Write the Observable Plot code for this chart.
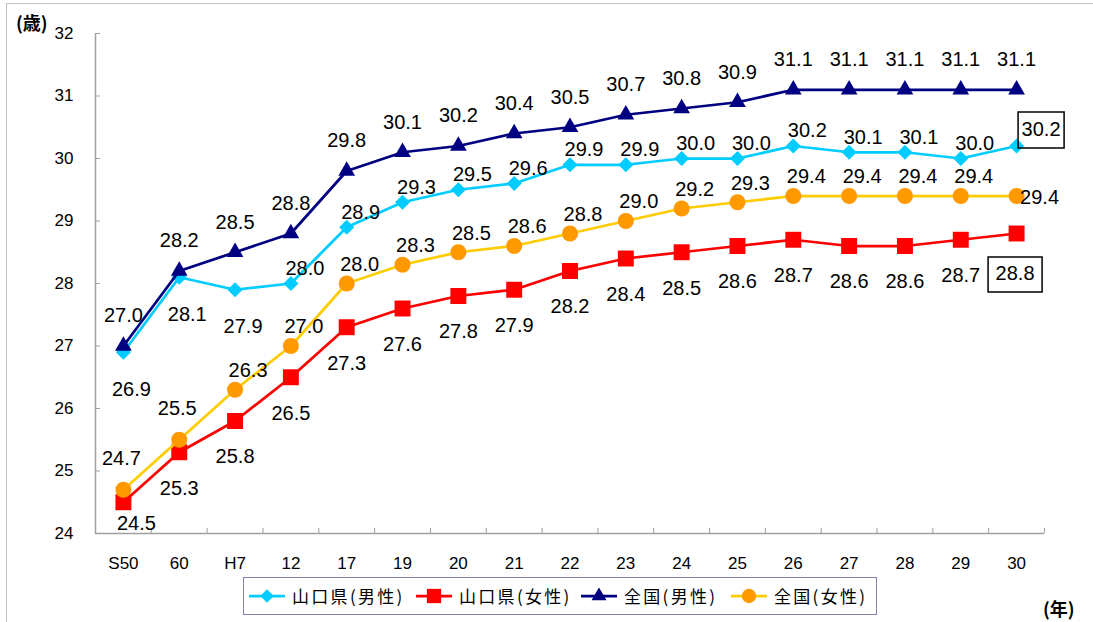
<!DOCTYPE html>
<html><head><meta charset="utf-8">
<script src="https://cdn.jsdelivr.net/npm/d3@7"></script>
<script src="https://cdn.jsdelivr.net/npm/@observablehq/plot@0.6"></script>
<style>
html,body{margin:0;padding:0;background:#fff;overflow:hidden;}
#wrap{position:relative;width:1093px;height:622px;overflow:hidden;font-family:"Liberation Sans",Arial,sans-serif;}
#frame{position:absolute;left:6px;top:3px;width:1200px;height:800px;border:1px solid #c0c0c0;}
#chart{position:absolute;left:0;top:0;}
.unit{position:absolute;font-family:"Noto Sans CJK JP",sans-serif;font-weight:bold;font-size:18px;color:#000;}
#legend{position:absolute;left:243px;top:577px;width:634px;height:38px;border:1.5px solid #8080aa;box-sizing:border-box;font-family:"Noto Sans CJK JP",sans-serif;font-size:17px;color:#000;}
.item{position:absolute;top:0;height:35px;display:flex;align-items:center;white-space:nowrap;}
.item span{letter-spacing:2.3px;}
.item svg{margin-right:6px;}
</style></head><body>
<div id="wrap"><div id="frame"></div><div id="chart"></div>
<div class="unit" style="left:16px;top:9px;">(歳)</div>
<div class="unit" style="left:1043px;top:595px;">(年)</div>
<div id="legend"></div>
</div>
<script>
const categories = ["S50","60","H7","12","17","19","20","21","22","23","24","25","26","27","28","29","30"];
const yamaguchiMale   = [26.9,28.1,27.9,28.0,28.9,29.3,29.5,29.6,29.9,29.9,30.0,30.0,30.2,30.1,30.1,30.0,30.2];
const yamaguchiFemale = [24.5,25.3,25.8,26.5,27.3,27.6,27.8,27.9,28.2,28.4,28.5,28.6,28.7,28.6,28.6,28.7,28.8];
const nationalMale    = [27.0,28.2,28.5,28.8,29.8,30.1,30.2,30.4,30.5,30.7,30.8,30.9,31.1,31.1,31.1,31.1,31.1];
const nationalFemale  = [24.7,25.5,26.3,27.0,28.0,28.3,28.5,28.6,28.8,29.0,29.2,29.3,29.4,29.4,29.4,29.4,29.4];
const yTicks = [24,25,26,27,28,29,30,31,32];
const seriesNames = ["山口県(男性)","山口県(女性)","全国(男性)","全国(女性)"];

const W = 1093, H = 622, mL = 95, mR = 49, mT = 33, mB = 89;
const bw = (W - mL - mR) / categories.length;
const last = categories.length - 1;

const mk = (vals, name) => vals.map((v, i) => ({cat: categories[i], value: v, series: name, i}));
const ym = mk(yamaguchiMale, seriesNames[0]);
const yf = mk(yamaguchiFemale, seriesNames[1]);
const nm = mk(nationalMale, seriesNames[2]);
const nf = mk(nationalFemale, seriesNames[3]);

const styles = [
  {data: ym, line: "#00ccff", fill: "#00ccff", symbol: "diamond2", r: 6.8, legendLeft: 4},
  {data: yf, line: "#ff0000", fill: "#ff0000", symbol: "square", r: 9.0, legendLeft: 171},
  {data: nm, line: "#000080", fill: "#000080", symbol: "triangle", r: 6.2, legendLeft: 336},
  {data: nf, line: "#ffcc00", fill: "#ff9900", symbol: "circle", r: 8.0, legendLeft: 486}
];

const boxSym = (w, h) => ({draw(ctx) { ctx.rect(-w/2, -h/2, w, h); }});
const lbl = (d) => d.value.toFixed(1);
const T = (data, opts) => Plot.text(data, {x: "cat", y: "value", text: lbl, fontSize: 20, fill: "#000", ...opts});

const marks = [
  Plot.ruleY([24], {stroke: "#a0a0a0", strokeWidth: 1.5}),
  Plot.ruleX([categories[0]], {y1: 24, y2: 32, dx: -bw/2, stroke: "#a0a0a0", strokeWidth: 1.5}),
  Plot.tickX(categories, {x: d => d, dx: -bw/2, insetTop: (H - mT - mB) - 5, stroke: "#a0a0a0"}),
  Plot.tickX([categories[last]], {x: d => d, dx: bw/2, insetTop: (H - mT - mB) - 5, stroke: "#a0a0a0"}),
  Plot.tickY(yTicks, {y: d => d, x: () => categories[0], insetRight: bw - 5, stroke: "#a0a0a0"})
];
for (const s of styles) {
  marks.push(Plot.line(s.data, {x: "cat", y: "value", stroke: s.line, strokeWidth: 2.75}));
  marks.push(Plot.dot(s.data, {x: "cat", y: "value", symbol: s.symbol, r: s.r, fill: s.fill, stroke: "none"}));
}
marks.push(
  T(nm, {dy: -30}),
  T(ym.filter(d => d.i < 3), {dx: 8, dy: 37}),
  T(ym.filter(d => d.i >= 3 && d.i < last), {dx: 14, dy: -15}),
  T(ym.filter(d => d.i === last), {dx: 24.5, dy: -16}),
  Plot.dot(ym.filter(d => d.i === last), {x: "cat", y: "value", dx: 24.5, dy: -16, symbol: boxSym(46, 36), r: 1, fill: "none", stroke: "#000", strokeWidth: 1.5}),
  T(nf.filter(d => d.i < 2), {dx: -2, dy: -31}),
  T(nf.filter(d => d.i >= 2 && d.i < last), {dx: 13, dy: -19}),
  T(nf.filter(d => d.i === last), {dx: 23, dy: 2}),
  T(yf.filter(d => d.i === 0), {dx: 13, dy: 21}),
  T(yf.filter(d => d.i > 0 && d.i < last), {dx: 0, dy: 36}),
  T(yf.filter(d => d.i === last), {dx: -1.5, dy: 40}),
  Plot.dot(yf.filter(d => d.i === last), {x: "cat", y: "value", dx: -1.5, dy: 41, symbol: boxSym(54, 35), r: 1, fill: "none", stroke: "#000", strokeWidth: 1.5})
);

const chart = Plot.plot({
  width: W, height: H,
  marginLeft: mL, marginRight: mR, marginTop: mT, marginBottom: mB,
  style: {fontFamily: "Liberation Sans, Arial, sans-serif", fontSize: "17px", color: "#000", background: "transparent", overflow: "visible"},
  x: {type: "band", domain: categories, padding: 0, round: false, tickSize: 0, tickPadding: 23, label: null},
  y: {domain: [24, 32], ticks: yTicks, tickSize: 0, tickPadding: 22, label: null},
  marks
});
document.getElementById("chart").appendChild(chart);

// legend
const legend = d3.select("#legend");
styles.forEach((s, k) => {
  const item = legend.append("div").attr("class", "item").style("left", s.legendLeft + "px");
  const svg = item.append("svg").attr("width", 38).attr("height", 16);
  svg.append("line").attr("x1", 1).attr("x2", 37).attr("y1", 8).attr("y2", 8).attr("stroke", s.line).attr("stroke-width", 2.75);
  const sym = {diamond2: d3.symbolDiamond2, square: d3.symbolSquare, triangle: d3.symbolTriangle, circle: d3.symbolCircle}[s.symbol];
  svg.append("path").attr("transform", "translate(19,8)").attr("d", d3.symbol(sym, Math.PI * s.r * s.r * 0.8)()).attr("fill", s.fill);
  item.append("span").text(seriesNames[k]);
});
</script>
</body></html>
